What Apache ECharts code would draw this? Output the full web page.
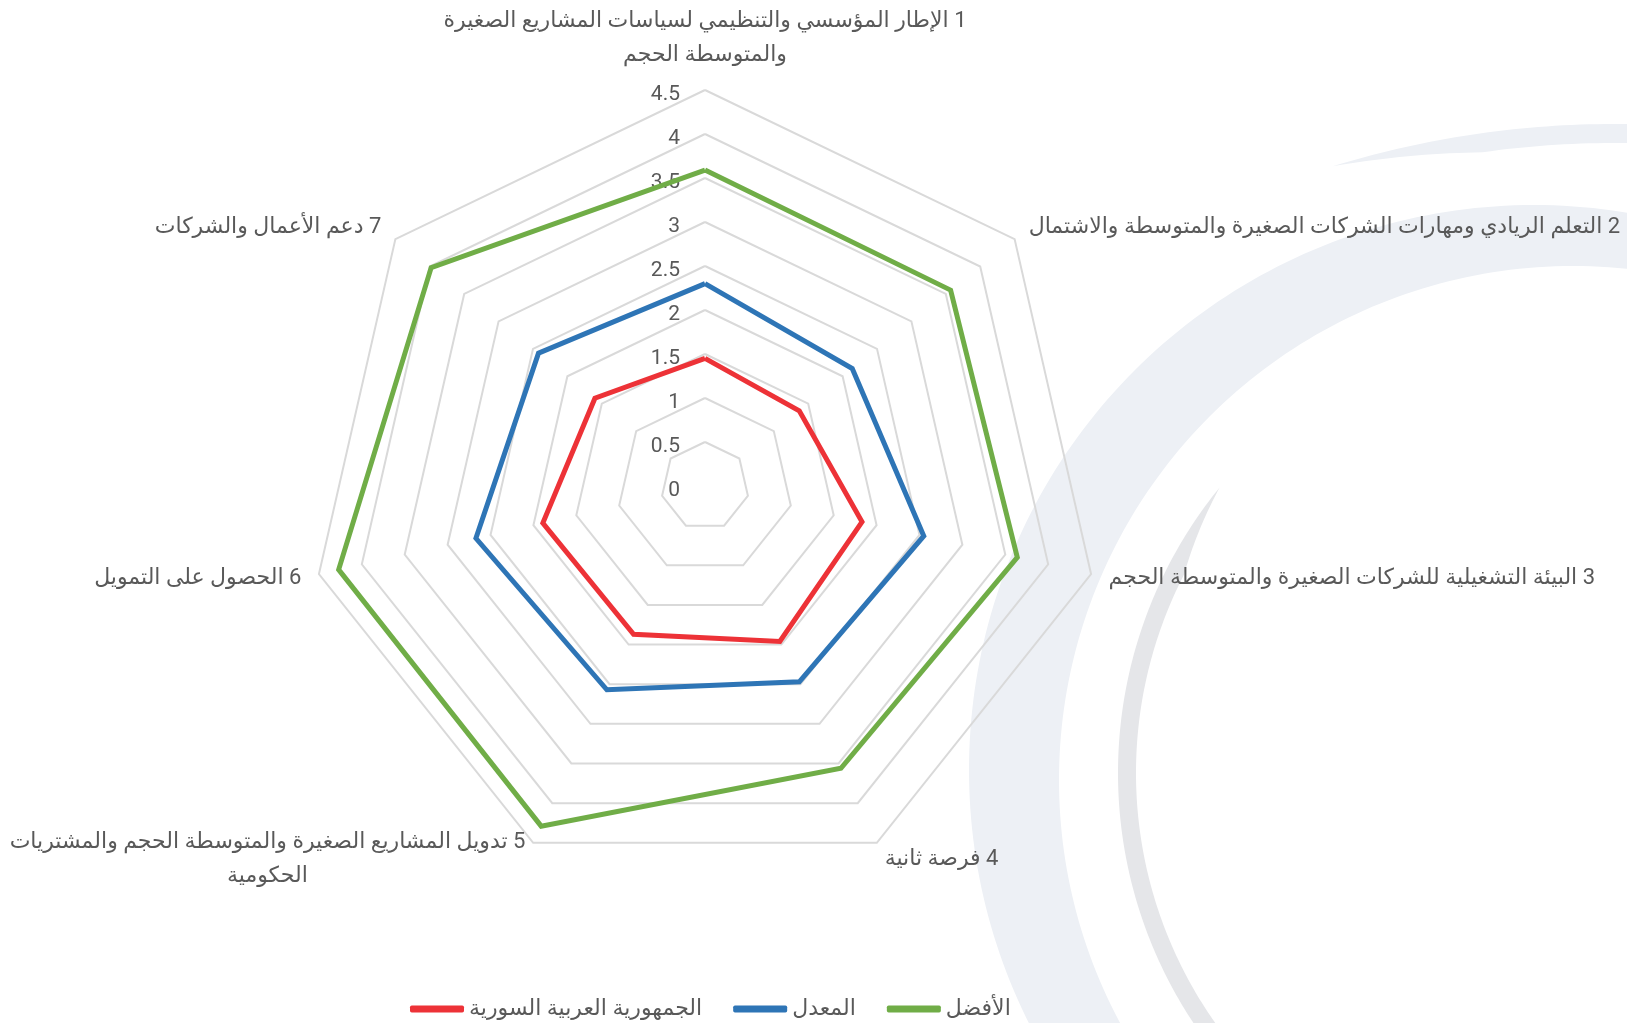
<!DOCTYPE html>
<html>
<head>
<meta charset="utf-8">
<script src="https://cdn.jsdelivr.net/npm/echarts@6/dist/echarts.min.js"></script>
<style>
html,body{margin:0;padding:0;background:#ffffff;}
#chart{width:1627px;height:1023px;direction:rtl;}
</style>
</head>
<body>
<div id="chart"></div>
<script>
// ---------- data ----------
const categories = [
  '1 الإطار المؤسسي والتنظيمي لسياسات المشاريع الصغيرة\nوالمتوسطة الحجم',
  '2 التعلم الريادي ومهارات الشركات الصغيرة والمتوسطة والاشتمال',
  '3 البيئة التشغيلية للشركات الصغيرة والمتوسطة الحجم',
  '4 فرصة ثانية',
  '5 تدويل المشاريع الصغيرة والمتوسطة الحجم والمشتريات\nالحكومية',
  '6 الحصول على التمويل',
  '7 دعم الأعمال والشركات'
];
const seriesNames = ['الجمهورية العربية السورية', 'المعدل', 'الأفضل'];
const syriaValues   = [1.45, 1.37, 1.83, 1.96, 1.87, 1.89, 1.60];
const averageValues = [2.30, 2.14, 2.55, 2.47, 2.57, 2.67, 2.42];
const bestValues    = [3.59, 3.57, 3.64, 3.56, 4.29, 4.27, 3.98];
const axisMin = 0;
const axisMax = 4.5;
const axisStep = 0.5;

// ---------- styling ----------
const FONT = "Roboto, 'DejaVu Sans', sans-serif";
const TEXT = '#595959';
const NAME_SIZE = 22;
const colors = ['#ED3237', '#2E75B6', '#70AD47'];

// ECharts places indicators counter-clockwise; reorder so they run clockwise
const order = [0, 6, 5, 4, 3, 2, 1];
const reorder = arr => order.map(i => arr[i]);

// width of first line of label 5, to center its second line under it
const measureCtx = document.createElement('canvas').getContext('2d');
measureCtx.font = NAME_SIZE + 'px ' + FONT;
const label5Lines = categories[4].split('\n');
const label5Width = Math.ceil(measureCtx.measureText(label5Lines[0]).width);

// decorative background crescents
function crescent(c1, r1, c2, r2fn, a0, a1, step) {
  const pts = [];
  const rad = d => d * Math.PI / 180;
  const n = Math.round(Math.abs(a1 - a0) / step);
  for (let k = 0; k <= n; k++) {
    const a = a0 + (a1 - a0) * k / n;
    pts.push([c1[0] + r1 * Math.cos(rad(a)), c1[1] + r1 * Math.sin(rad(a))]);
  }
  for (let k = n; k >= 0; k--) {
    const a = a0 + (a1 - a0) * k / n;
    const r2 = r2fn(a);
    pts.push([c2[0] + r2 * Math.cos(rad(a)), c2[1] + r2 * Math.sin(rad(a))]);
  }
  return pts;
}
const bandA = crescent([1534, 770], 565, [1573, 780], () => 514, -80, -280, 1);
const bandB = crescent([1614, 1080], 956, [1614, 1080],
  a => 956 - 19 * Math.min(1, Math.max(0, (a + 107.1) / 9)), -107.1, -84, 0.5);
const bandC = crescent([1570, 773], 452, [1570, 773],
  a => 452 - 18 * Math.min(1, Math.max(0, (219.2 - a) / 12)), 219.2, 120, 0.5);

const chart = echarts.init(document.getElementById('chart'), null, {renderer: 'canvas'});

const indicators = reorder(categories).map((name, k) => {
  const ind = {name: name, min: axisMin, max: axisMax};
  if (k === 0) {
    ind.axisLabel = {
      show: true, margin: 25, fontSize: 21, color: TEXT, fontFamily: FONT,
      verticalAlign: 'top', lineHeight: 10
    };
  }
  return ind;
});

const makeSeries = (name, values, color) => ({
  type: 'radar',
  name: name,
  symbol: 'none',
  z: 3,
  itemStyle: {color: color},
  lineStyle: {color: color, width: 5, join: 'miter'},
  emphasis: {disabled: true},
  data: [{name: name, value: reorder(values)}]
});

chart.setOption({
  backgroundColor: '#ffffff',
  animation: false,
  graphic: [
    {type: 'polygon', z: -1, silent: true, shape: {points: bandA}, style: {fill: '#EDF0F5'}},
    {type: 'polygon', z: -1, silent: true, shape: {points: bandB}, style: {fill: '#EDF0F5'}},
    {type: 'polygon', z: -1, silent: true, shape: {points: bandC}, style: {fill: '#E5E6E9'}}
  ],
  legend: {
    data: seriesNames,
    left: 405,
    top: 993,
    icon: 'roundRect',
    itemWidth: 54,
    itemHeight: 7,
    itemGap: 31,
    selectedMode: false,
    textStyle: {fontSize: 22, color: TEXT, fontFamily: FONT}
  },
  radar: {
    center: [705, 486],
    radius: 396,
    startAngle: 90,
    splitNumber: Math.round((axisMax - axisMin) / axisStep),
    shape: 'polygon',
    nameGap: 18,
    axisName: {
      color: TEXT,
      fontSize: NAME_SIZE,
      fontFamily: FONT,
      lineHeight: 34,
      formatter: function (name) {
        if (name === categories[4]) {
          return '{a|' + label5Lines[0] + '}\n{b|' + label5Lines[1] + '}';
        }
        return name;
      },
      rich: {
        a: {fontSize: NAME_SIZE, fontFamily: FONT, color: TEXT, lineHeight: 34},
        b: {fontSize: NAME_SIZE, fontFamily: FONT, color: TEXT, lineHeight: 34, width: label5Width, align: 'center'}
      }
    },
    axisLine: {show: false},
    axisTick: {show: false},
    axisLabel: {show: false},
    splitLine: {lineStyle: {color: '#D9D9D9', width: 2}},
    splitArea: {show: false},
    indicator: indicators
  },
  series: [
    makeSeries(seriesNames[2], bestValues, colors[2]),
    makeSeries(seriesNames[1], averageValues, colors[1]),
    makeSeries(seriesNames[0], syriaValues, colors[0])
  ]
});
</script>
</body>
</html>
